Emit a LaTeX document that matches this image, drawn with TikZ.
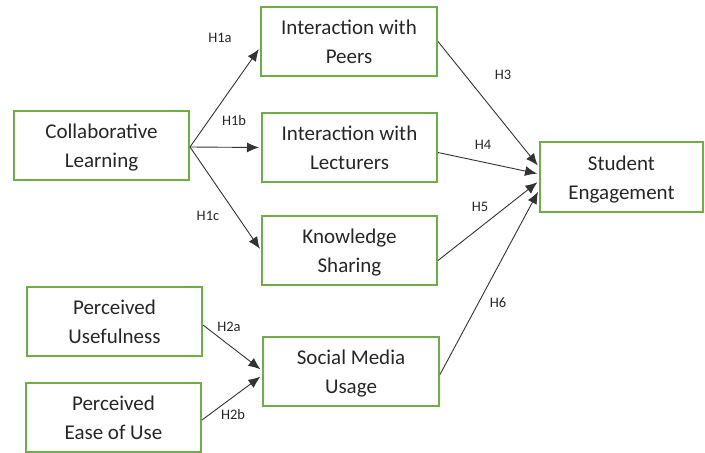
\documentclass[tikz,border=0pt]{standalone}
\usepackage{fontspec}
\setmainfont{Carlito}
\usetikzlibrary{arrows.meta}
\definecolor{boxgreen}{HTML}{70AD47}
\newcommand\boxtext[2]{\begin{tabular}{@{}c@{}}\rule{0pt}{24pt}#1\\#2\end{tabular}}
\tikzset{
  box/.style={draw=boxgreen, line width=2pt, minimum width=#1, minimum height=69pt, inner sep=0pt,
    font=\fontsize{21}{29}\selectfont, text=black!85},
  box/.default=175pt,
  conn/.style={draw=black!80, line width=0.9pt, -{Latex[length=12pt,width=10pt]}, shorten >=2pt},
  lab/.style={font=\fontsize{14.5}{17}\selectfont, text=black!85, inner sep=0pt}
}
\begin{document}
\begin{tikzpicture}[x=1pt,y=-1pt]
\useasboundingbox (0,0) rectangle (705,453);
\node[box] (CL) at (101.5,145) {\boxtext{Collaborative}{Learning}};
\node[box=176pt] (IP) at (349,41.5) {\boxtext{Interaction with}{Peers}};
\node[box] (IL) at (349.5,147.5) {\boxtext{Interaction with}{Lecturers}};
\node[box] (KS) at (349.5,250.5) {\boxtext{Knowledge}{Sharing}};
\node[box=176pt] (SM) at (351,371.5) {\boxtext{Social Media}{Usage}};
\node[box] (PU) at (114.5,321) {\boxtext{Perceived}{Usefulness}};
\node[box] (PE) at (113.5,417) {\boxtext{Perceived}{Ease of Use}};
\node[box=163pt, minimum height=70pt] (SE) at (621.5,177) {\boxtext{Student}{Engagement}};

\draw[conn] ([yshift=-2pt]CL.east) -- ([yshift=-6pt]IP.west);
\draw[conn] ([yshift=-2pt]CL.east) -- ([yshift=0pt]IL.west);
\draw[conn] ([yshift=-2pt]CL.east) -- ([yshift=0pt]KS.west);
\draw[conn] ([yshift=0pt]IP.east) -- ([yshift=10pt]SE.west);
\draw[conn] ([yshift=-5pt]IL.east) -- ([yshift=3pt]SE.west);
\draw[conn] ([yshift=-10pt]KS.east) -- ([yshift=-4pt]SE.west);
\draw[conn] ([yshift=-3pt]SM.east) -- ([yshift=-13pt]SE.west);
\draw[conn] ([yshift=-4pt]PU.east) -- ([yshift=1pt]SM.west);
\draw[conn] ([yshift=-3pt]PE.east) -- ([yshift=-4pt]SM.west);

\node[lab] (l1a) at (220,38) {H1a};
\node[lab] (l1b) at (234,121) {H1b};
\node[lab] (l1c) at (208,216) {H1c};
\node[lab] (l3) at (503,75) {H3};
\node[lab] (l4) at (483,145) {H4};
\node[lab] (l5) at (480,207) {H5};
\node[lab] (l6) at (498,303) {H6};
\node[lab] (l2a) at (229,327) {H2a};
\node[lab] (l2b) at (233,415) {H2b};
\end{tikzpicture}
\end{document}
